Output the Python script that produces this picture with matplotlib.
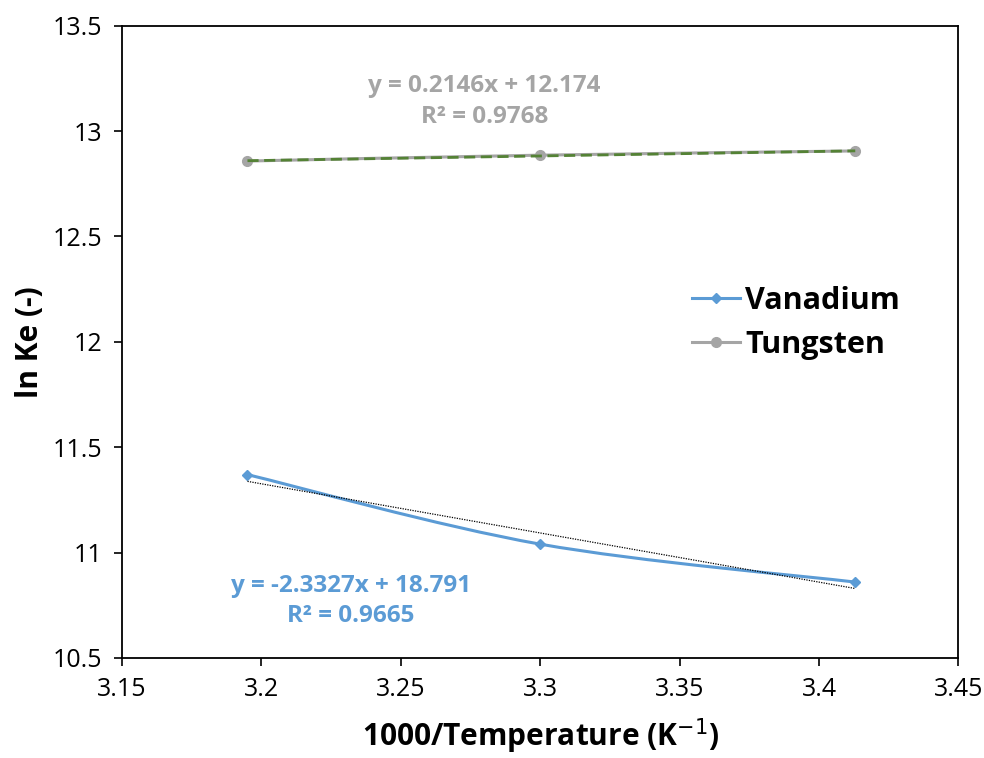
import numpy as np
import matplotlib.pyplot as plt
from matplotlib.path import Path
from matplotlib.patches import PathPatch
from matplotlib.lines import Line2D

plt.rcParams['font.family'] = ['Open Sans', 'DejaVu Sans']

# ─── Data ─────────────────────────────────────────────────────────────
inv_temp = [3.195, 3.300, 3.413]
vanadium = [11.37, 11.04, 10.86]
tungsten = [12.858, 12.886, 12.906]

# linear trendlines (as printed on the chart)
v_slope, v_icpt, v_r2 = -2.3327, 18.791, 0.9665
w_slope, w_icpt, w_r2 = 0.2146, 12.174, 0.9768

blue = '#5B9BD5'
grey = '#A5A5A5'
green = '#548235'


def smooth_path(x, y):
    """Excel-style smoothed line: cubic Bezier segments (Catmull-Rom)."""
    x, y = np.asarray(x, float), np.asarray(y, float)
    n = len(x)
    verts = [(x[0], y[0])]
    codes = [Path.MOVETO]
    for i in range(n - 1):
        x0, y0 = (x[i - 1], y[i - 1]) if i > 0 else (x[i], y[i])
        x3, y3 = (x[i + 2], y[i + 2]) if i + 2 < n else (x[i + 1], y[i + 1])
        c1 = (x[i] + (x[i + 1] - x0) / 6, y[i] + (y[i + 1] - y0) / 6)
        c2 = (x[i + 1] - (x3 - x[i]) / 6, y[i + 1] - (y3 - y[i]) / 6)
        verts += [c1, c2, (x[i + 1], y[i + 1])]
        codes += [Path.CURVE4] * 3
    return Path(verts, codes)


fig, ax = plt.subplots(figsize=(9.84, 7.58), dpi=100)
fig.subplots_adjust(left=0.124, right=0.974, bottom=0.132, top=0.966)

# smoothed series lines
ax.add_patch(PathPatch(smooth_path(inv_temp, vanadium), fill=False,
                       edgecolor=blue, lw=2.2, zorder=2))
ax.add_patch(PathPatch(smooth_path(inv_temp, tungsten), fill=False,
                       edgecolor=grey, lw=2.2, zorder=2))
ax.plot(inv_temp, vanadium, ls='none', marker='D', ms=5, color=blue, zorder=3)
ax.plot(inv_temp, tungsten, ls='none', marker='o', ms=7, color=grey, zorder=3)

# trendlines
xt = np.array([inv_temp[0], inv_temp[-1]])
ax.plot(xt, v_slope * xt + v_icpt, color='black', ls=(0, (1, 1)), lw=0.9, zorder=4)
ax.plot(xt, w_slope * xt + w_icpt, color=green, ls=(0, (4, 2)), lw=2.0, zorder=4)

# trendline equations
ax.text(3.280, 13.14, f'y = {w_slope}x + {w_icpt}\nR² = {w_r2}', color=grey,
        ha='center', va='center', fontsize=17.5, fontweight='bold', linespacing=1.35)
ax.text(3.232, 10.77, f'y = {v_slope}x + {v_icpt}\nR² = {v_r2}', color=blue,
        ha='center', va='center', fontsize=17.5, fontweight='bold', linespacing=1.35)

ax.set_xlim(3.15, 3.45)
ax.set_ylim(10.5, 13.5)
ax.set_xticks(np.arange(3.15, 3.451, 0.05))
ax.set_xticklabels(['3.15', '3.2', '3.25', '3.3', '3.35', '3.4', '3.45'])
ax.set_yticks(np.arange(10.5, 13.51, 0.5))
ax.set_yticklabels(['10.5', '11', '11.5', '12', '12.5', '13', '13.5'])
ax.tick_params(direction='out', length=6, width=1.2, labelsize=18,
               colors='black', pad=8)
for s in ax.spines.values():
    s.set_linewidth(1.3)

ax.set_xlabel('1000/Temperature (K$^{-1}$)', fontsize=21.5, fontweight='bold', labelpad=10)
ax.set_ylabel('ln Ke (-)', fontsize=21.5, fontweight='bold', labelpad=6)

handles = [Line2D([], [], color=blue, lw=2.2, marker='D', ms=5),
           Line2D([], [], color=grey, lw=2.2, marker='o', ms=7)]
leg = ax.legend(handles, ['Vanadium', 'Tungsten'], loc='center left',
                bbox_to_anchor=(0.648, 0.53), frameon=False, handlelength=1.6,
                handletextpad=0.15, labelspacing=0.45,
                prop={'size': 22, 'weight': 'bold'})

plt.savefig('out.png', dpi=100)
